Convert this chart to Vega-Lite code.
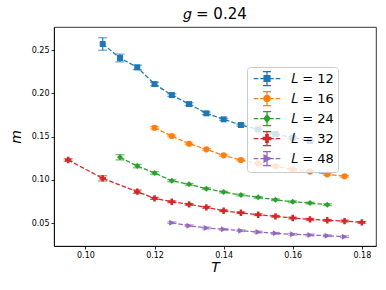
{
  "$schema": "https://vega.github.io/schema/vega-lite/v6.json",
  "width": 322,
  "height": 219,
  "autosize": {"type": "none"},
  "padding": {"left": 54, "top": 27, "right": 10, "bottom": 44},
  "background": "white",
  "title": {"text": "𝑔 = 0.24", "font": "DejaVu Sans", "fontSize": 15, "fontWeight": "normal", "color": "#000", "anchor": "middle", "offset": 5},
  "config": {
    "view": {"stroke": "#000", "strokeWidth": 0.8},
    "axis": {"labelFont": "DejaVu Sans", "labelFontSize": 8, "labelColor": "#000", "tickColor": "#000", "tickSize": 3, "domainColor": "#000", "domainWidth": 0.8, "tickWidth": 0.8, "grid": false, "titleFont": "DejaVu Sans", "titleFontSize": 14, "titleFontWeight": "normal", "titleFontStyle": "italic", "titleColor": "#000"},
    "legend": {"labelFont": "DejaVu Sans", "labelFontSize": 13, "labelColor": "#000"}
  },
  "data": {"values": [
    {"L": "12", "T": 0.105, "m": 0.257, "e": 0.0072},
    {"L": "12", "T": 0.110, "m": 0.2408, "e": 0.0045},
    {"L": "12", "T": 0.115, "m": 0.2300, "e": 0.0025},
    {"L": "12", "T": 0.120, "m": 0.2107, "e": 0.002},
    {"L": "12", "T": 0.125, "m": 0.1980, "e": 0.0015},
    {"L": "12", "T": 0.130, "m": 0.1876, "e": 0.0015},
    {"L": "12", "T": 0.135, "m": 0.1769, "e": 0.0015},
    {"L": "12", "T": 0.140, "m": 0.1700, "e": 0.0012},
    {"L": "12", "T": 0.145, "m": 0.1634, "e": 0.0012},
    {"L": "12", "T": 0.150, "m": 0.1584, "e": 0.001},
    {"L": "12", "T": 0.155, "m": 0.1530, "e": 0.001},
    {"L": "12", "T": 0.160, "m": 0.1487, "e": 0.001},
    {"L": "12", "T": 0.165, "m": 0.1449, "e": 0.001},
    {"L": "16", "T": 0.120, "m": 0.1603, "e": 0.0015},
    {"L": "16", "T": 0.125, "m": 0.1507, "e": 0.001},
    {"L": "16", "T": 0.130, "m": 0.1418, "e": 0.001},
    {"L": "16", "T": 0.135, "m": 0.1353, "e": 0.001},
    {"L": "16", "T": 0.140, "m": 0.1284, "e": 0.001},
    {"L": "16", "T": 0.145, "m": 0.1230, "e": 0.001},
    {"L": "16", "T": 0.150, "m": 0.1192, "e": 0.001},
    {"L": "16", "T": 0.155, "m": 0.1158, "e": 0.001},
    {"L": "16", "T": 0.160, "m": 0.1119, "e": 0.001},
    {"L": "16", "T": 0.165, "m": 0.1096, "e": 0.001},
    {"L": "16", "T": 0.170, "m": 0.1065, "e": 0.001},
    {"L": "16", "T": 0.175, "m": 0.1042, "e": 0.001},
    {"L": "24", "T": 0.110, "m": 0.1261, "e": 0.003},
    {"L": "24", "T": 0.115, "m": 0.1160, "e": 0.002},
    {"L": "24", "T": 0.120, "m": 0.1080, "e": 0.0015},
    {"L": "24", "T": 0.125, "m": 0.0991, "e": 0.0012},
    {"L": "24", "T": 0.130, "m": 0.0949, "e": 0.001},
    {"L": "24", "T": 0.135, "m": 0.0899, "e": 0.001},
    {"L": "24", "T": 0.140, "m": 0.0860, "e": 0.001},
    {"L": "24", "T": 0.145, "m": 0.0826, "e": 0.001},
    {"L": "24", "T": 0.150, "m": 0.0799, "e": 0.001},
    {"L": "24", "T": 0.155, "m": 0.0771, "e": 0.001},
    {"L": "24", "T": 0.160, "m": 0.0748, "e": 0.001},
    {"L": "24", "T": 0.165, "m": 0.0733, "e": 0.001},
    {"L": "24", "T": 0.170, "m": 0.0714, "e": 0.001},
    {"L": "32", "T": 0.095, "m": 0.1230, "e": 0.0015},
    {"L": "32", "T": 0.105, "m": 0.1018, "e": 0.003},
    {"L": "32", "T": 0.115, "m": 0.0864, "e": 0.002},
    {"L": "32", "T": 0.120, "m": 0.0787, "e": 0.0012},
    {"L": "32", "T": 0.125, "m": 0.0748, "e": 0.001},
    {"L": "32", "T": 0.130, "m": 0.0718, "e": 0.001},
    {"L": "32", "T": 0.135, "m": 0.0684, "e": 0.001},
    {"L": "32", "T": 0.140, "m": 0.0644, "e": 0.001},
    {"L": "32", "T": 0.145, "m": 0.0621, "e": 0.001},
    {"L": "32", "T": 0.150, "m": 0.0598, "e": 0.001},
    {"L": "32", "T": 0.155, "m": 0.0580, "e": 0.001},
    {"L": "32", "T": 0.160, "m": 0.0560, "e": 0.001},
    {"L": "32", "T": 0.165, "m": 0.0545, "e": 0.001},
    {"L": "32", "T": 0.170, "m": 0.0534, "e": 0.001},
    {"L": "32", "T": 0.175, "m": 0.0525, "e": 0.001},
    {"L": "32", "T": 0.180, "m": 0.0510, "e": 0.001},
    {"L": "48", "T": 0.125, "m": 0.0506, "e": 0.001},
    {"L": "48", "T": 0.130, "m": 0.0471, "e": 0.001},
    {"L": "48", "T": 0.135, "m": 0.0445, "e": 0.001},
    {"L": "48", "T": 0.140, "m": 0.0430, "e": 0.001},
    {"L": "48", "T": 0.145, "m": 0.0414, "e": 0.001},
    {"L": "48", "T": 0.150, "m": 0.0398, "e": 0.001},
    {"L": "48", "T": 0.155, "m": 0.0383, "e": 0.001},
    {"L": "48", "T": 0.160, "m": 0.0372, "e": 0.001},
    {"L": "48", "T": 0.165, "m": 0.0364, "e": 0.001},
    {"L": "48", "T": 0.170, "m": 0.0356, "e": 0.001},
    {"L": "48", "T": 0.175, "m": 0.0344, "e": 0.001}
  ]},
  "encoding": {
    "x": {"field": "T", "type": "quantitative", "title": "T",
      "scale": {"domain": [0.0909, 0.1841], "nice": false, "zero": false},
      "axis": {"values": [0.10, 0.12, 0.14, 0.16, 0.18], "format": ".2f", "labelPadding": 2, "titlePadding": 1}},
    "y": {"field": "m", "type": "quantitative", "title": "m",
        "scale": {"domain": [0.0237, 0.2766], "nice": false, "zero": false},
        "axis": {"values": [0.05, 0.10, 0.15, 0.20, 0.25], "format": ".2f", "labelPadding": 2, "titlePadding": 8}},
    "color": {"field": "L", "type": "nominal",
      "scale": {"domain": ["12", "16", "24", "32", "48"], "range": ["#1f77b4", "#ff7f0e", "#2ca02c", "#d62728", "#9467bd"]},
      "legend": {"title": null, "orient": "none", "legendX": 193, "legendY": 40, "padding": 3.5,
        "fillColor": "rgba(255,255,255,0.8)", "strokeColor": "#cccccc", "cornerRadius": 3,
        "labelExpr": "'𝐿 = ' + datum.label", "symbolSize": 196, "symbolOpacity": 1,
        "rowPadding": 0, "labelOffset": 16, "symbolOffset": 8.5,
        "encode": {"symbols": {"update": {
          "shape": {"signal": "'M-1.9,0H-1.242M-0.957,0H-0.301M0.301,0H0.957M1.242,0H1.9M0,-1V1M-0.58,-1H0.58M-0.58,1H0.58' + (datum.value == '12' ? 'M-0.42,-0.42H0.42V0.42H-0.42Z' : datum.value == '16' ? 'M0.46,0A0.46,0.46,0,1,1,-0.46,0A0.46,0.46,0,1,1,0.46,0Z' : datum.value == '24' ? 'M0,-0.54L0.42,0L0,0.54L-0.42,0Z' : datum.value == '32' ? 'M-0.17,-0.54H0.17V-0.17H0.54V0.17H0.17V0.54H-0.17V0.17H-0.54V-0.17H-0.17Z' : 'M-0.42,-0.5L0.54,0L-0.42,0.5Z')"},
          "size": {"value": 196},
          "fill": {"signal": "scale('color', datum.value)"},
          "stroke": {"signal": "scale('color', datum.value)"},
          "strokeWidth": {"value": 1.25},
          "strokeDash": {"value": []},
          "opacity": {"value": 1},
          "fillOpacity": {"value": 1},
          "strokeOpacity": {"value": 1}
        }}}}}
  },
  "layer": [
    {"mark": {"type": "line", "strokeDash": [4.6, 2], "strokeWidth": 1.25}},
    {"mark": {"type": "errorbar", "ticks": {"size": 9}, "thickness": 1.2},
     "encoding": {"yError": {"field": "e"}}},
    {"transform": [{"filter": "datum.L == '12'"}], "mark": {"type": "point", "filled": true, "opacity": 1, "size": 36, "shape": "square"}},
    {"transform": [{"filter": "datum.L == '16'"}], "mark": {"type": "point", "filled": true, "opacity": 1, "size": 38, "shape": "circle"}},
    {"transform": [{"filter": "datum.L == '24'"}], "mark": {"type": "point", "filled": true, "opacity": 1, "size": 36, "shape": "diamond"}},
    {"transform": [{"filter": "datum.L == '32'"}], "mark": {"type": "point", "filled": true, "opacity": 1, "size": 40, "shape": "cross"}},
    {"transform": [{"filter": "datum.L == '48'"}], "mark": {"type": "point", "filled": true, "opacity": 1, "size": 36, "shape": "triangle-right"}}
  ]
}
